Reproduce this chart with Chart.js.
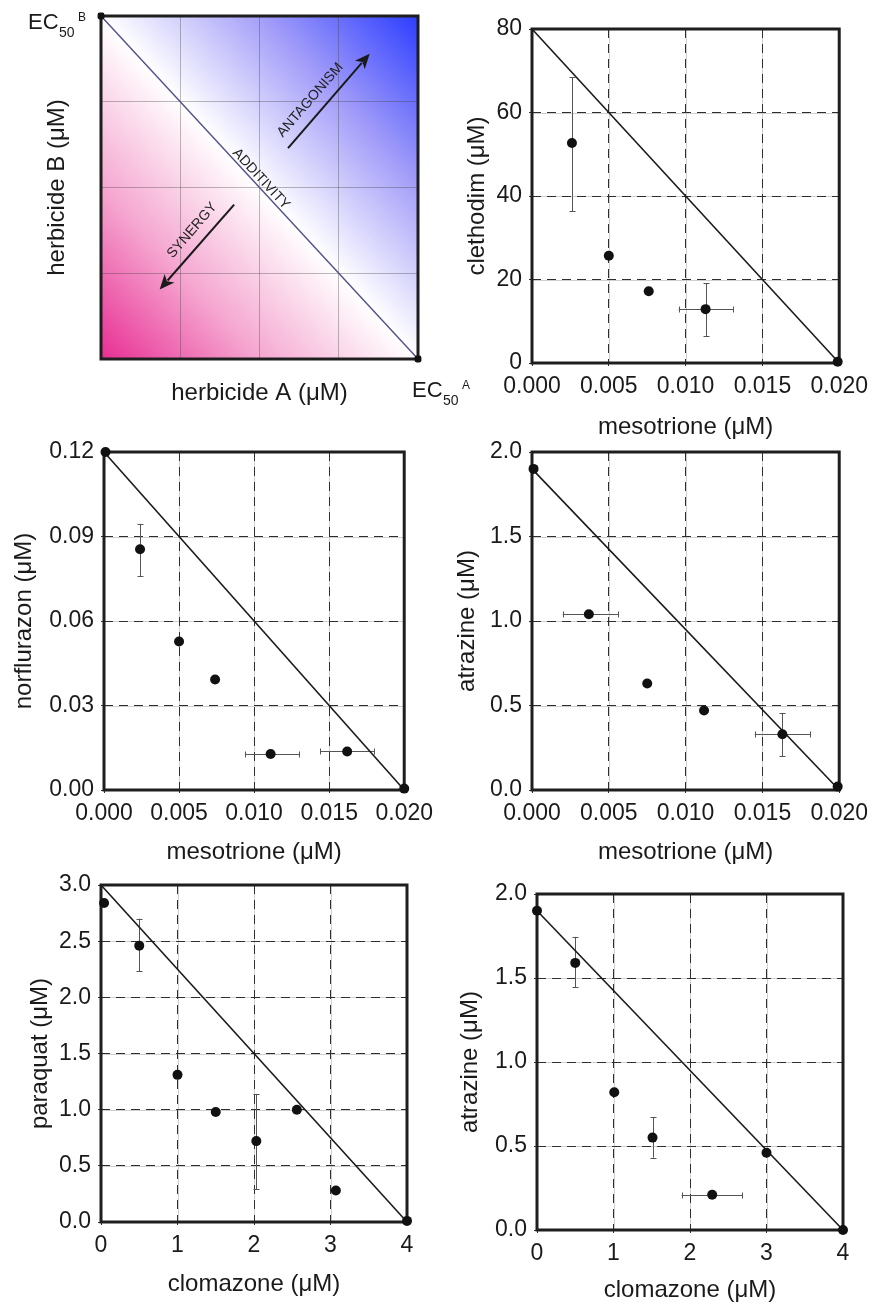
<!DOCTYPE html>
<html><head><meta charset="utf-8">
<script src="https://cdn.jsdelivr.net/npm/chart.js@4/dist/chart.umd.min.js"></script>
<style>
html,body{margin:0;padding:0;background:#fff;width:875px;height:1305px;overflow:hidden;position:relative;}
canvas{position:absolute;}
</style></head><body>
<canvas id="c1"></canvas><canvas id="c2"></canvas><canvas id="c3"></canvas>
<canvas id="c4"></canvas><canvas id="c5"></canvas><canvas id="c6"></canvas>
<script>
// ================= DATA =================
// Panel 1: schematic isobologram (axes 0..4 grid units)
const schemLineX = [0, 4];
const schemLineY = [4, 0];
const schemArrowAntag = [[2.36, 2.46], [3.39, 3.56]];
const schemArrowSyn = [[1.68, 1.80], [0.74, 0.81]];
const schemLabels = ['ANTAGONISM', 'SYNERGY', 'ADDITIVITY'];
const schemLabelPos = [[2.64, 3.02], [1.15, 1.50], [2.02, 2.10]];

// Panel 2: mesotrione vs clethodim
const p2X = [0.0026, 0.0050, 0.0076, 0.0113, 0.0199];
const p2Y = [52.7, 25.7, 17.2, 12.9, 0.3];
const p2XLo = [null, null, null, 0.00955, null];
const p2XHi = [null, null, null, 0.0131, null];
const p2YLo = [36.3, null, null, 6.5, null];
const p2YHi = [68.5, null, null, 19.1, null];
const p2LineX = [0, 0.020];
const p2LineY = [80, 0];

// Panel 3: mesotrione vs norflurazon
const p3X = [0.0001, 0.0024, 0.0050, 0.0074, 0.0111, 0.0162, 0.0200];
const p3Y = [0.1200, 0.0855, 0.0527, 0.0392, 0.0128, 0.0137, 0.0005];
const p3XLo = [null, null, null, null, 0.0094, 0.0144, null];
const p3XHi = [null, null, null, null, 0.0130, 0.0180, null];
const p3YLo = [null, 0.0760, null, null, null, null, null];
const p3YHi = [null, 0.0945, null, null, null, null, null];
const p3LineX = [0, 0.020];
const p3LineY = [0.12, 0];

// Panel 4: mesotrione vs atrazine
const p4X = [0.0001, 0.0037, 0.0075, 0.0112, 0.0163, 0.0199];
const p4Y = [1.90, 1.04, 0.63, 0.47, 0.33, 0.02];
const p4XLo = [null, 0.0020, null, null, 0.0145, null];
const p4XHi = [null, 0.0056, null, null, 0.0181, null];
const p4YLo = [null, null, null, null, 0.20, null];
const p4YHi = [null, null, null, null, 0.455, null];
const p4LineX = [0, 0.020];
const p4LineY = [1.9, 0];

// Panel 5: clomazone vs paraquat
const p5X = [0.04, 0.50, 1.00, 1.50, 2.03, 2.56, 3.07, 4.00];
const p5Y = [2.84, 2.46, 1.31, 0.98, 0.72, 1.00, 0.28, 0.01];
const p5XLo = [null, null, null, null, null, null, null, null];
const p5XHi = [null, null, null, null, null, null, null, null];
const p5YLo = [null, 2.23, null, null, 0.29, null, null, null];
const p5YHi = [null, 2.70, null, null, 1.14, null, null, null];
const p5LineX = [0, 4];
const p5LineY = [3, 0];

// Panel 6: clomazone vs atrazine
const p6X = [0.00, 0.50, 1.01, 1.51, 2.29, 3.00, 4.00];
const p6Y = [1.90, 1.59, 0.82, 0.55, 0.21, 0.46, 0.00];
const p6XLo = [null, null, null, null, 1.89, null, null];
const p6XHi = [null, null, null, null, 2.68, null, null];
const p6YLo = [null, 1.445, null, 0.43, null, null, null];
const p6YHi = [null, 1.745, null, 0.67, null, null, null];
const p6LineX = [0, 4];
const p6LineY = [1.9, 0];

// Tick labels
const mesoTicks = ['0.000', '0.005', '0.010', '0.015', '0.020'];
const clomTicks = ['0', '1', '2', '3', '4'];
const clethTicks = ['0', '20', '40', '60', '80'];
const norfTicks = ['0.00', '0.03', '0.06', '0.09', '0.12'];
const atraTicks = ['0.0', '0.5', '1.0', '1.5', '2.0'];
const paraTicks = ['0.0', '0.5', '1.0', '1.5', '2.0', '2.5', '3.0'];

// ================= RENDER =================
const FONT = '"Liberation Sans", Arial, Helvetica, sans-serif';
const TXT = '#1a1a1a';
const TICK_SIZE = 23, TITLE_SIZE = 24;

const underGrid = {
  id: 'underGrid',
  beforeDraw(chart, args, opts) {
    if (!opts.on) return;
    const {ctx, chartArea: a, scales} = chart;
    ctx.save();
    ctx.strokeStyle = '#cfcfcf'; ctx.lineWidth = 1;
    scales.x.ticks.forEach(t => {
      const p = Math.round(scales.x.getPixelForValue(t.value)) + 0.5;
      ctx.beginPath(); ctx.moveTo(p, a.top); ctx.lineTo(p, a.bottom); ctx.stroke();
    });
    scales.y.ticks.forEach(t => {
      const p = Math.round(scales.y.getPixelForValue(t.value)) + 0.5;
      ctx.beginPath(); ctx.moveTo(a.left, p); ctx.lineTo(a.right, p); ctx.stroke();
    });
    ctx.restore();
  }
};

const frameAndErrors = {
  id: 'frameAndErrors',
  beforeDatasetsDraw(chart, args, opts) {
    const {ctx, chartArea: a, scales} = chart;
    ctx.save();
    ctx.strokeStyle = '#1e1e1e'; ctx.lineWidth = 3;
    ctx.strokeRect(a.left, a.top, a.right - a.left, a.bottom - a.top);
    const e = opts.err;
    if (e) {
      ctx.strokeStyle = '#555'; ctx.lineWidth = 1;
      const cap = 3;
      e.x.forEach((xv, i) => {
        const px = scales.x.getPixelForValue(xv), py = scales.y.getPixelForValue(e.y[i]);
        if (e.yLo[i] != null) {
          const y1 = scales.y.getPixelForValue(e.yLo[i]), y2 = scales.y.getPixelForValue(e.yHi[i]);
          const cx = Math.round(px) + 0.5;
          ctx.beginPath(); ctx.moveTo(cx, y1); ctx.lineTo(cx, y2);
          ctx.moveTo(cx - cap, Math.round(y1) + 0.5); ctx.lineTo(cx + cap, Math.round(y1) + 0.5);
          ctx.moveTo(cx - cap, Math.round(y2) + 0.5); ctx.lineTo(cx + cap, Math.round(y2) + 0.5);
          ctx.stroke();
        }
        if (e.xLo[i] != null) {
          const x1 = scales.x.getPixelForValue(e.xLo[i]), x2 = scales.x.getPixelForValue(e.xHi[i]);
          const cy = Math.round(py) + 0.5;
          ctx.beginPath(); ctx.moveTo(x1, cy); ctx.lineTo(x2, cy);
          ctx.moveTo(Math.round(x1) + 0.5, cy - cap); ctx.lineTo(Math.round(x1) + 0.5, cy + cap);
          ctx.moveTo(Math.round(x2) + 0.5, cy - cap); ctx.lineTo(Math.round(x2) + 0.5, cy + cap);
          ctx.stroke();
        }
      });
    }
    ctx.restore();
  }
};

function drawArrow(ctx, x1, y1, x2, y2) {
  const ang = Math.atan2(y2 - y1, x2 - x1);
  const hl = 15, hw = 6.5;
  const c = Math.cos(ang), s = Math.sin(ang);
  const bx = x2 - hl * c, by = y2 - hl * s;
  ctx.strokeStyle = '#1a1a1a'; ctx.fillStyle = '#1a1a1a'; ctx.lineWidth = 2;
  ctx.beginPath(); ctx.moveTo(x1, y1); ctx.lineTo(bx + 3 * c, by + 3 * s); ctx.stroke();
  ctx.beginPath(); ctx.moveTo(x2, y2);
  ctx.lineTo(bx - hw * s, by + hw * c);
  ctx.lineTo(bx + 4 * c, by + 4 * s);
  ctx.lineTo(bx + hw * s, by - hw * c);
  ctx.closePath(); ctx.fill();
}

function rotText(ctx, txt, x, y, ang, size) {
  ctx.save();
  ctx.translate(x, y); ctx.rotate(ang);
  ctx.font = size + 'px ' + FONT; ctx.fillStyle = '#222';
  ctx.textAlign = 'center'; ctx.textBaseline = 'middle';
  ctx.fillText(txt, 0, 0);
  ctx.restore();
}

const schematic = {
  id: 'schematic',
  beforeDraw(chart) {
    const {ctx, chartArea: a} = chart;
    const w = a.right - a.left, h = a.bottom - a.top;
    const cx = (a.left + a.right) / 2, cy = (a.top + a.bottom) / 2;
    const n = Math.hypot(w, h);
    const ux = -h / n, uy = w / n, d = w * h / n;
    ctx.save();
    let g = ctx.createLinearGradient(cx, cy, cx + ux * d, cy + uy * d);
    g.addColorStop(0, '#ffffff'); g.addColorStop(0.5, '#f5a6d0'); g.addColorStop(1, '#e82e93');
    ctx.beginPath(); ctx.moveTo(a.left, a.top); ctx.lineTo(a.left, a.bottom); ctx.lineTo(a.right, a.bottom); ctx.closePath();
    ctx.fillStyle = g; ctx.fill();
    g = ctx.createLinearGradient(cx, cy, cx - ux * d, cy - uy * d);
    g.addColorStop(0, '#ffffff'); g.addColorStop(0.5, '#a49ef9'); g.addColorStop(1, '#2c3dff');
    ctx.beginPath(); ctx.moveTo(a.left, a.top); ctx.lineTo(a.right, a.top); ctx.lineTo(a.right, a.bottom); ctx.closePath();
    ctx.fillStyle = g; ctx.fill();
    ctx.restore();
  },
  afterDraw(chart) {
    const {ctx, chartArea: a, scales: {x, y}} = chart;
    const P = (p) => [x.getPixelForValue(p[0]), y.getPixelForValue(p[1])];
    ctx.save();
    let s = P(schemArrowAntag[0]), t = P(schemArrowAntag[1]);
    drawArrow(ctx, s[0], s[1], t[0], t[1]);
    const angA = Math.atan2(t[1] - s[1], t[0] - s[0]);
    s = P(schemArrowSyn[0]); t = P(schemArrowSyn[1]);
    drawArrow(ctx, s[0], s[1], t[0], t[1]);
    const angD = Math.atan2(a.bottom - a.top, a.right - a.left);
    let q = P(schemLabelPos[0]); rotText(ctx, schemLabels[0], q[0], q[1], angA, 14);
    q = P(schemLabelPos[1]); rotText(ctx, schemLabels[1], q[0], q[1], angA, 14);
    q = P(schemLabelPos[2]); rotText(ctx, schemLabels[2], q[0], q[1], angD, 14);
    // EC50 labels
    ctx.fillStyle = TXT; ctx.textAlign = 'left'; ctx.textBaseline = 'alphabetic';
    const tl = P([0, 4]), br = P([4, 0]);
    const ec = (ox, oy, sup) => {
      ctx.font = '22px ' + FONT; ctx.fillText('EC', ox, oy);
      ctx.font = '14px ' + FONT; ctx.fillText('50', ox + 31, oy + 8);
      ctx.font = '12px ' + FONT; ctx.fillText(sup, ox + 50, oy - 8);
    };
    ec(tl[0] - 73, tl[1] + 13, 'B');
    ec(br[0] - 6, br[1] + 38, 'A');
    ctx.restore();
  }
};

function pts(xs, ys) { return xs.map((v, i) => ({x: v, y: ys[i]})); }

function makeChart(o) {
  const [bx, by, bw, bh] = o.box;
  const [pl, pt, pr, pb] = o.plot;
  const cv = document.getElementById(o.id);
  cv.width = bw; cv.height = bh;
  Object.assign(cv.style, {left: bx + 'px', top: by + 'px', width: bw + 'px', height: bh + 'px'});
  const lh = TITLE_SIZE * 1.2;
  const tickFont = {family: FONT, size: TICK_SIZE};
  const titleFont = {family: FONT, size: TITLE_SIZE};
  const datasets = [];
  if (o.px) datasets.push({data: pts(o.px, o.py), pointRadius: 5, pointBackgroundColor: '#111', pointBorderWidth: 0, showLine: false, clip: false});
  datasets.push({data: pts(o.lx, o.ly), showLine: true, borderColor: o.lineColor || '#1a1a1a', borderWidth: o.lineWidth || 1.6,
    pointRadius: o.linePts ? 4 : 0, pointStyle: 'rectRounded', pointBackgroundColor: '#111', pointBorderWidth: 0, clip: false});
  const mkScale = (s, axis) => {
    const lab = (v) => s.labels ? s.labels[Math.round((v - s.min) / s.step)] : '';
    const cfg = {
      type: 'linear', min: s.min, max: s.max,
      ticks: {display: !!s.labels, stepSize: s.step, font: tickFont, color: TXT, padding: 7, maxRotation: 0, autoSkip: false, callback: lab},
      grid: {color: o.gridColor, lineWidth: 1, drawTicks: !!s.labels, tickLength: 3, tickColor: '#333', tickWidth: 1, tickBorderDash: []},
      border: {display: false, dash: o.dash},
      title: {display: true, text: s.title, font: titleFont, color: TXT}
    };
    if (axis === 'x') {
      cfg.title.padding = {top: 0, bottom: by + bh - o.xTitleY - lh / 2};
      cfg.afterFit = (sc) => { sc.height = by + bh - pb; };
    } else {
      cfg.title.padding = {top: o.yTitleX - bx - lh / 2, bottom: 0};
      cfg.afterFit = (sc) => { sc.width = pl - bx; };
    }
    return cfg;
  };
  new Chart(cv, {
    type: 'scatter',
    data: {datasets},
    options: {
      responsive: false, animation: false, devicePixelRatio: 1,
      layout: {padding: {left: 0, top: pt - by, right: bx + bw - pr, bottom: 0}},
      plugins: {legend: {display: false}, tooltip: {enabled: false},
        underGrid: {on: !o.schematic},
        frameAndErrors: {err: o.px ? {x: o.px, y: o.py, xLo: o.xLo, xHi: o.xHi, yLo: o.yLo, yHi: o.yHi} : null}},
      scales: {x: mkScale(o.x, 'x'), y: mkScale(o.y, 'y')}
    },
    plugins: o.schematic ? [schematic, underGrid, frameAndErrors] : [underGrid, frameAndErrors]
  });
}

const gridDark = '#2e2e2e', dashPat = [9, 6];

makeChart({id: 'c1', box: [0, 0, 480, 420], plot: [101, 16, 418, 359], yTitleX: 57, xTitleY: 393, schematic: true,
  gridColor: 'rgba(60,60,60,0.35)', dash: [], lx: schemLineX, ly: schemLineY, lineColor: '#50508e', lineWidth: 1.4, linePts: true,
  x: {min: 0, max: 4, step: 1, labels: null, title: 'herbicide A (μM)'},
  y: {min: 0, max: 4, step: 1, labels: null, title: 'herbicide B (μM)'}});

makeChart({id: 'c2', box: [440, 0, 435, 445], plot: [532, 29, 841, 363], yTitleX: 477, xTitleY: 427,
  gridColor: gridDark, dash: dashPat, px: p2X, py: p2Y, xLo: p2XLo, xHi: p2XHi, yLo: p2YLo, yHi: p2YHi, lx: p2LineX, ly: p2LineY,
  x: {min: 0, max: 0.020, step: 0.005, labels: mesoTicks, title: 'mesotrione (μM)'},
  y: {min: 0, max: 80, step: 20, labels: clethTicks, title: 'clethodim (μM)'}});

makeChart({id: 'c3', box: [0, 420, 440, 445], plot: [104, 452, 413, 790], yTitleX: 24, xTitleY: 852,
  gridColor: gridDark, dash: dashPat, px: p3X, py: p3Y, xLo: p3XLo, xHi: p3XHi, yLo: p3YLo, yHi: p3YHi, lx: p3LineX, ly: p3LineY,
  x: {min: 0, max: 0.020, step: 0.005, labels: mesoTicks, title: 'mesotrione (μM)'},
  y: {min: 0, max: 0.12, step: 0.03, labels: norfTicks, title: 'norflurazon (μM)'}});

makeChart({id: 'c4', box: [440, 420, 435, 445], plot: [532, 452, 842, 790], yTitleX: 467, xTitleY: 852,
  gridColor: gridDark, dash: dashPat, px: p4X, py: p4Y, xLo: p4XLo, xHi: p4XHi, yLo: p4YLo, yHi: p4YHi, lx: p4LineX, ly: p4LineY,
  x: {min: 0, max: 0.020, step: 0.005, labels: mesoTicks, title: 'mesotrione (μM)'},
  y: {min: 0, max: 2.0, step: 0.5, labels: atraTicks, title: 'atrazine (μM)'}});

makeChart({id: 'c5', box: [0, 860, 440, 445], plot: [101, 885, 407, 1222], yTitleX: 40, xTitleY: 1284,
  gridColor: gridDark, dash: dashPat, px: p5X, py: p5Y, xLo: p5XLo, xHi: p5XHi, yLo: p5YLo, yHi: p5YHi, lx: p5LineX, ly: p5LineY,
  x: {min: 0, max: 4, step: 1, labels: clomTicks, title: 'clomazone (μM)'},
  y: {min: 0, max: 3.0, step: 0.5, labels: paraTicks, title: 'paraquat (μM)'}});

makeChart({id: 'c6', box: [440, 860, 435, 445], plot: [537, 894, 843, 1230], yTitleX: 470, xTitleY: 1290,
  gridColor: gridDark, dash: dashPat, px: p6X, py: p6Y, xLo: p6XLo, xHi: p6XHi, yLo: p6YLo, yHi: p6YHi, lx: p6LineX, ly: p6LineY,
  x: {min: 0, max: 4, step: 1, labels: clomTicks, title: 'clomazone (μM)'},
  y: {min: 0, max: 2.0, step: 0.5, labels: atraTicks, title: 'atrazine (μM)'}});
</script>
</body></html>
